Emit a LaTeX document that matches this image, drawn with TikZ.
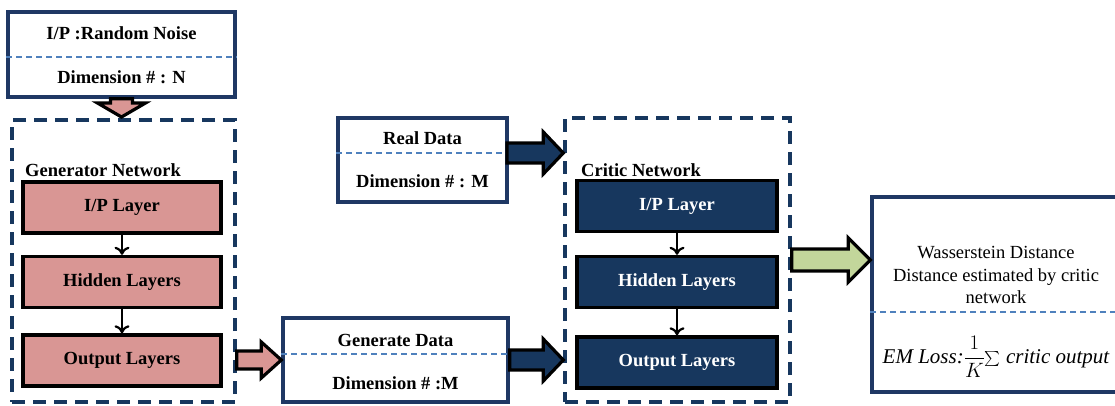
\documentclass[tikz,border=0pt]{standalone}
\usepackage{fontspec}
\setmainfont{Liberation Serif}
\usetikzlibrary{calc,arrows.meta}
\definecolor{navy}{HTML}{17375E}
\definecolor{boxblue}{HTML}{1F3864}
\definecolor{pinkf}{HTML}{D99694}
\definecolor{greenf}{HTML}{C3D69B}
\definecolor{divblue}{HTML}{4F81BD}
\newcommand\blockR[6]{%
  \draw[blk, fill=#3] let \p1=(#1), \p2=(#2) in
  (\x1,\y2+#4pt) -- (\x2-#6pt,\y2+#4pt) -- (\x2-#6pt,\y2+#5pt) -- (\x2,\y2)
  -- (\x2-#6pt,\y2-#5pt) -- (\x2-#6pt,\y2-#4pt) -- (\x1,\y2-#4pt) -- cycle;}
\newcommand\blockD[6]{%
  \draw[blk, fill=#3] let \p1=(#1), \p2=(#2) in
  (\x1+#4pt,\y1) -- (\x1+#4pt,\y2+#6pt) -- (\x1+#5pt,\y2+#6pt) -- (\x1,\y2)
  -- (\x1-#5pt,\y2+#6pt) -- (\x1-#4pt,\y2+#6pt) -- (\x1-#4pt,\y1) -- cycle;}
\begin{document}
\begin{tikzpicture}[x=1pt,y=-1pt,
  every node/.style={font=\fontsize{18.5}{21}\selectfont\bfseries, inner sep=0pt},
  outbox/.style={draw=boxblue, line width=3.4pt, fill=white},
  container/.style={draw=navy, line width=3.4pt, dash pattern=on 13pt off 8pt},
  genlayer/.style={draw=black, line width=3.4pt, fill=pinkf, minimum width=198pt, minimum height=51pt},
  critlayer/.style={draw=black, line width=3.4pt, fill=navy, text=white, minimum width=200pt, minimum height=51pt},
  divider/.style={draw=divblue, line width=1.4pt, dash pattern=on 6pt off 4pt},
  blk/.style={draw=black, line width=3.2pt, line join=miter},
  thinarrow/.style={draw=black, line width=2.2pt, -{To[length=8pt,width=15pt,line width=2.2pt]}},
]
\useasboundingbox (0,0) rectangle (1115,405);

% Random noise box
\node[outbox, minimum width=227pt, minimum height=85pt] (noise) at (121.5,54.5) {};
\coordinate (ndiv) at (0,57);
\draw[divider] (noise.west |- ndiv) -- (noise.east |- ndiv);
\node (noiset) at (121.5,33) {I/P :Random Noise};
\node (noised) at (121.5,77) {Dimension \# : N};

% Generator container
\node[container, minimum width=223pt, minimum height=282pt] (gen) at (123.5,261) {};
\node[anchor=west] (glabel) at (25,170) {Generator Network};
\node[genlayer] (gip) at (122,207.5) {I/P Layer};
\node[genlayer] (ghid) at (122,282) {Hidden Layers};
\node[genlayer] (gout) at (122,360.5) {Output Layers};
\draw[thinarrow] (gip.south) -- (ghid.north);
\draw[thinarrow] (ghid.south) -- (gout.north);

% Real data box
\node[outbox, minimum width=169pt, minimum height=84pt] (rd) at (422.5,160) {};
\coordinate (rdiv) at (507,153);
\draw[divider] (rd.west |- rdiv) -- (rdiv);
\node (rdt) at (422.5,138) {Real Data};
\node (rdd) at (422.5,181) {Dimension \# : M};

% Generate data box
\node[outbox, minimum width=225pt, minimum height=84pt] (gd) at (395.5,360) {};
\coordinate (gdiv) at (0,354);
\draw[divider] (gd.west |- gdiv) -- (gd.east |- gdiv);
\node (gdt) at (395.5,340) {Generate Data};
\node (gdd) at (395.5,383) {Dimension \# :M};

% Critic container
\node[container, minimum width=225pt, minimum height=284pt] (crit) at (677.5,260) {};
\node[anchor=west] (clabel) at (581,170) {Critic Network};
\node[critlayer] (cip) at (677,206) {I/P Layer};
\node[critlayer] (chid) at (677,282) {Hidden Layers};
\node[critlayer] (cout) at (677,362.5) {Output Layers};
\draw[thinarrow] (cip.south) -- (chid.north);
\draw[thinarrow] (chid.south) -- (cout.north);

% Wasserstein box
\node[outbox, minimum width=250pt, minimum height=195pt] (wd) at (997,294.5) {};
\coordinate (wdiv) at (0,312);
\draw[divider] (wd.west |- wdiv) -- (wd.east |- wdiv);
\node[align=center, font=\fontsize{18.5}{22.5}\selectfont] (wdt) at (996,275)
  {Wasserstein Distance\\Distance estimated by critic\\network};
\node[font=\fontsize{21}{24}\selectfont\itshape] (wdf) at (996,357)
  {EM Loss:${\displaystyle\frac{1}{K}}$\raisebox{-0.15em}{\scalebox{1.5}{$\sum$}} critic output};

% block arrows
\coordinate (ntip) at (122,117);
\blockD{noise.south}{ntip}{pinkf}{11}{24}{14}
\blockR{gen.east}{gd.west}{pinkf}{9}{18}{20}
\blockR{rdiv}{crit.west |- rdiv}{navy}{10}{21}{20}
\blockR{gd.east}{crit.west |- gd.east}{navy}{10}{21}{20}
\blockR{crit.east}{wd.west |- crit.east}{greenf}{11}{22}{22}
\end{tikzpicture}
\end{document}
